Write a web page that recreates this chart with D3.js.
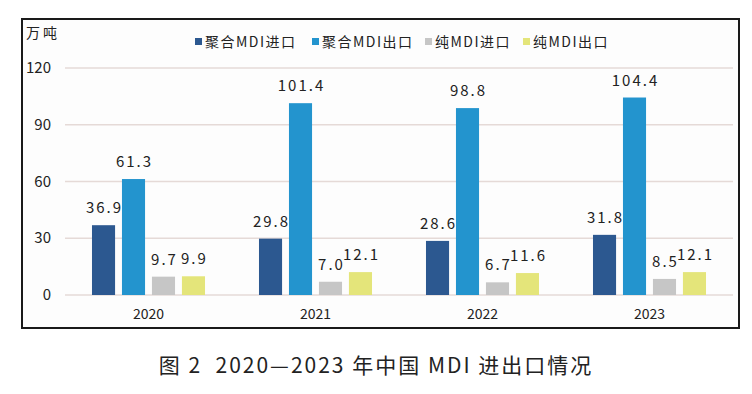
<!DOCTYPE html>
<html>
<head>
<meta charset="utf-8">
<script src="https://cdn.jsdelivr.net/npm/d3@7"></script>
<style>
  body { margin: 0; background: #fff; }
  text { font-family: "Noto Sans CJK SC", "Noto Sans", sans-serif; }
</style>
</head>
<body>
<div id="chart"></div>
<script>
// Data
const years = ["2020", "2021", "2022", "2023"];
const seriesNames = ["聚合MDI进口", "聚合MDI出口", "纯MDI进口", "纯MDI出口"];
const polyImport = [36.9, 29.8, 28.6, 31.8];
const polyExport = [61.3, 101.4, 98.8, 104.4];
const pureImport = [9.7, 7.0, 6.7, 8.5];
const pureExport = [9.9, 12.1, 11.6, 12.1];
const yTicks = [0, 30, 60, 90, 120];
const colors = ["#2c5890", "#2394ce", "#c6c6c6", "#e4e57a"];

const seriesValues = [polyImport, polyExport, pureImport, pureExport];

const W = 752, H = 394;
const svg = d3.select("#chart").append("svg")
    .attr("width", W)
    .attr("height", H);

// Frame
svg.append("rect")
    .attr("x", 22).attr("y", 19)
    .attr("width", 717).attr("height", 309)
    .attr("fill", "#fdfdfd")
    .attr("stroke", "#1a1a1a")
    .attr("stroke-width", 2);

// Scales
const x0 = d3.scaleBand().domain(years).range([65, 733]).padding(0);
const x1 = d3.scaleBand().domain(d3.range(4)).range([0, x0.bandwidth()])
    .paddingInner(0.23).paddingOuter(0.9);
const y = d3.scaleLinear().domain([0, 120]).range([295, 68]);

// Gridlines
svg.append("g").selectAll("line")
    .data(yTicks)
    .enter().append("line")
    .attr("x1", 65).attr("x2", 733)
    .attr("y1", d => y(d)).attr("y2", d => y(d))
    .attr("stroke", "#e5dad7")
    .attr("stroke-width", 1.5);

// Y axis labels
svg.append("g").selectAll("text")
    .data(yTicks)
    .enter().append("text")
    .attr("x", 51)
    .attr("y", d => y(d) + 5)
    .attr("text-anchor", "end")
    .attr("font-size", 15)
    .attr("fill", "#222")
    .text(d => d);

// Unit
svg.append("text")
    .attr("x", 26).attr("y", 38)
    .attr("font-size", 14)
    .attr("letter-spacing", "3px")
    .attr("fill", "#222")
    .text("万吨");

// Bars
const groups = svg.append("g").selectAll("g")
    .data(years)
    .enter().append("g")
    .attr("transform", d => "translate(" + x0(d) + ",0)");

groups.selectAll("rect")
    .data((d, i) => seriesValues.map((s, k) => ({k: k, v: s[i]})))
    .enter().append("rect")
    .attr("x", d => x1(d.k))
    .attr("width", x1.bandwidth())
    .attr("y", d => y(d.v))
    .attr("height", d => y(0) - y(d.v))
    .attr("fill", d => colors[d.k]);

groups.selectAll(".val")
    .data((d, i) => seriesValues.map((s, k) => ({k: k, v: s[i]})))
    .enter().append("text")
    .attr("class", "val")
    .attr("x", d => x1(d.k) + x1.bandwidth() / 2 + 1)
    .attr("y", d => y(d.v) - 12)
    .attr("text-anchor", "middle")
    .attr("font-size", 15)
    .attr("letter-spacing", "2px")
    .attr("fill", "#222")
    .text(d => d.v.toFixed(1));

// X axis labels
svg.append("g").selectAll("text")
    .data(years)
    .enter().append("text")
    .attr("x", d => x0(d) + x0.bandwidth() / 2)
    .attr("y", 319)
    .attr("text-anchor", "middle")
    .attr("font-size", 14)
    .attr("fill", "#222")
    .text(d => d);

// Legend
const legendX = [195, 312, 425, 523];
const legend = svg.append("g").selectAll("g")
    .data(seriesNames)
    .enter().append("g")
    .attr("transform", (d, i) => "translate(" + legendX[i] + ",42)");

legend.append("rect")
    .attr("x", 0).attr("y", -4)
    .attr("width", 7).attr("height", 7)
    .attr("fill", (d, i) => colors[i]);

legend.append("text")
    .attr("x", 10).attr("y", 5)
    .attr("font-size", 14)
    .attr("letter-spacing", "1.5px")
    .attr("fill", "#222")
    .text(d => d);

// Caption
svg.append("text")
    .attr("x", 376).attr("y", 373)
    .attr("text-anchor", "middle")
    .attr("font-size", 21)
    .attr("letter-spacing", "2px")
    .style("white-space", "pre")
    .attr("fill", "#222")
    .text("图 2  2020—2023 年中国 MDI 进出口情况");
</script>
</body>
</html>
